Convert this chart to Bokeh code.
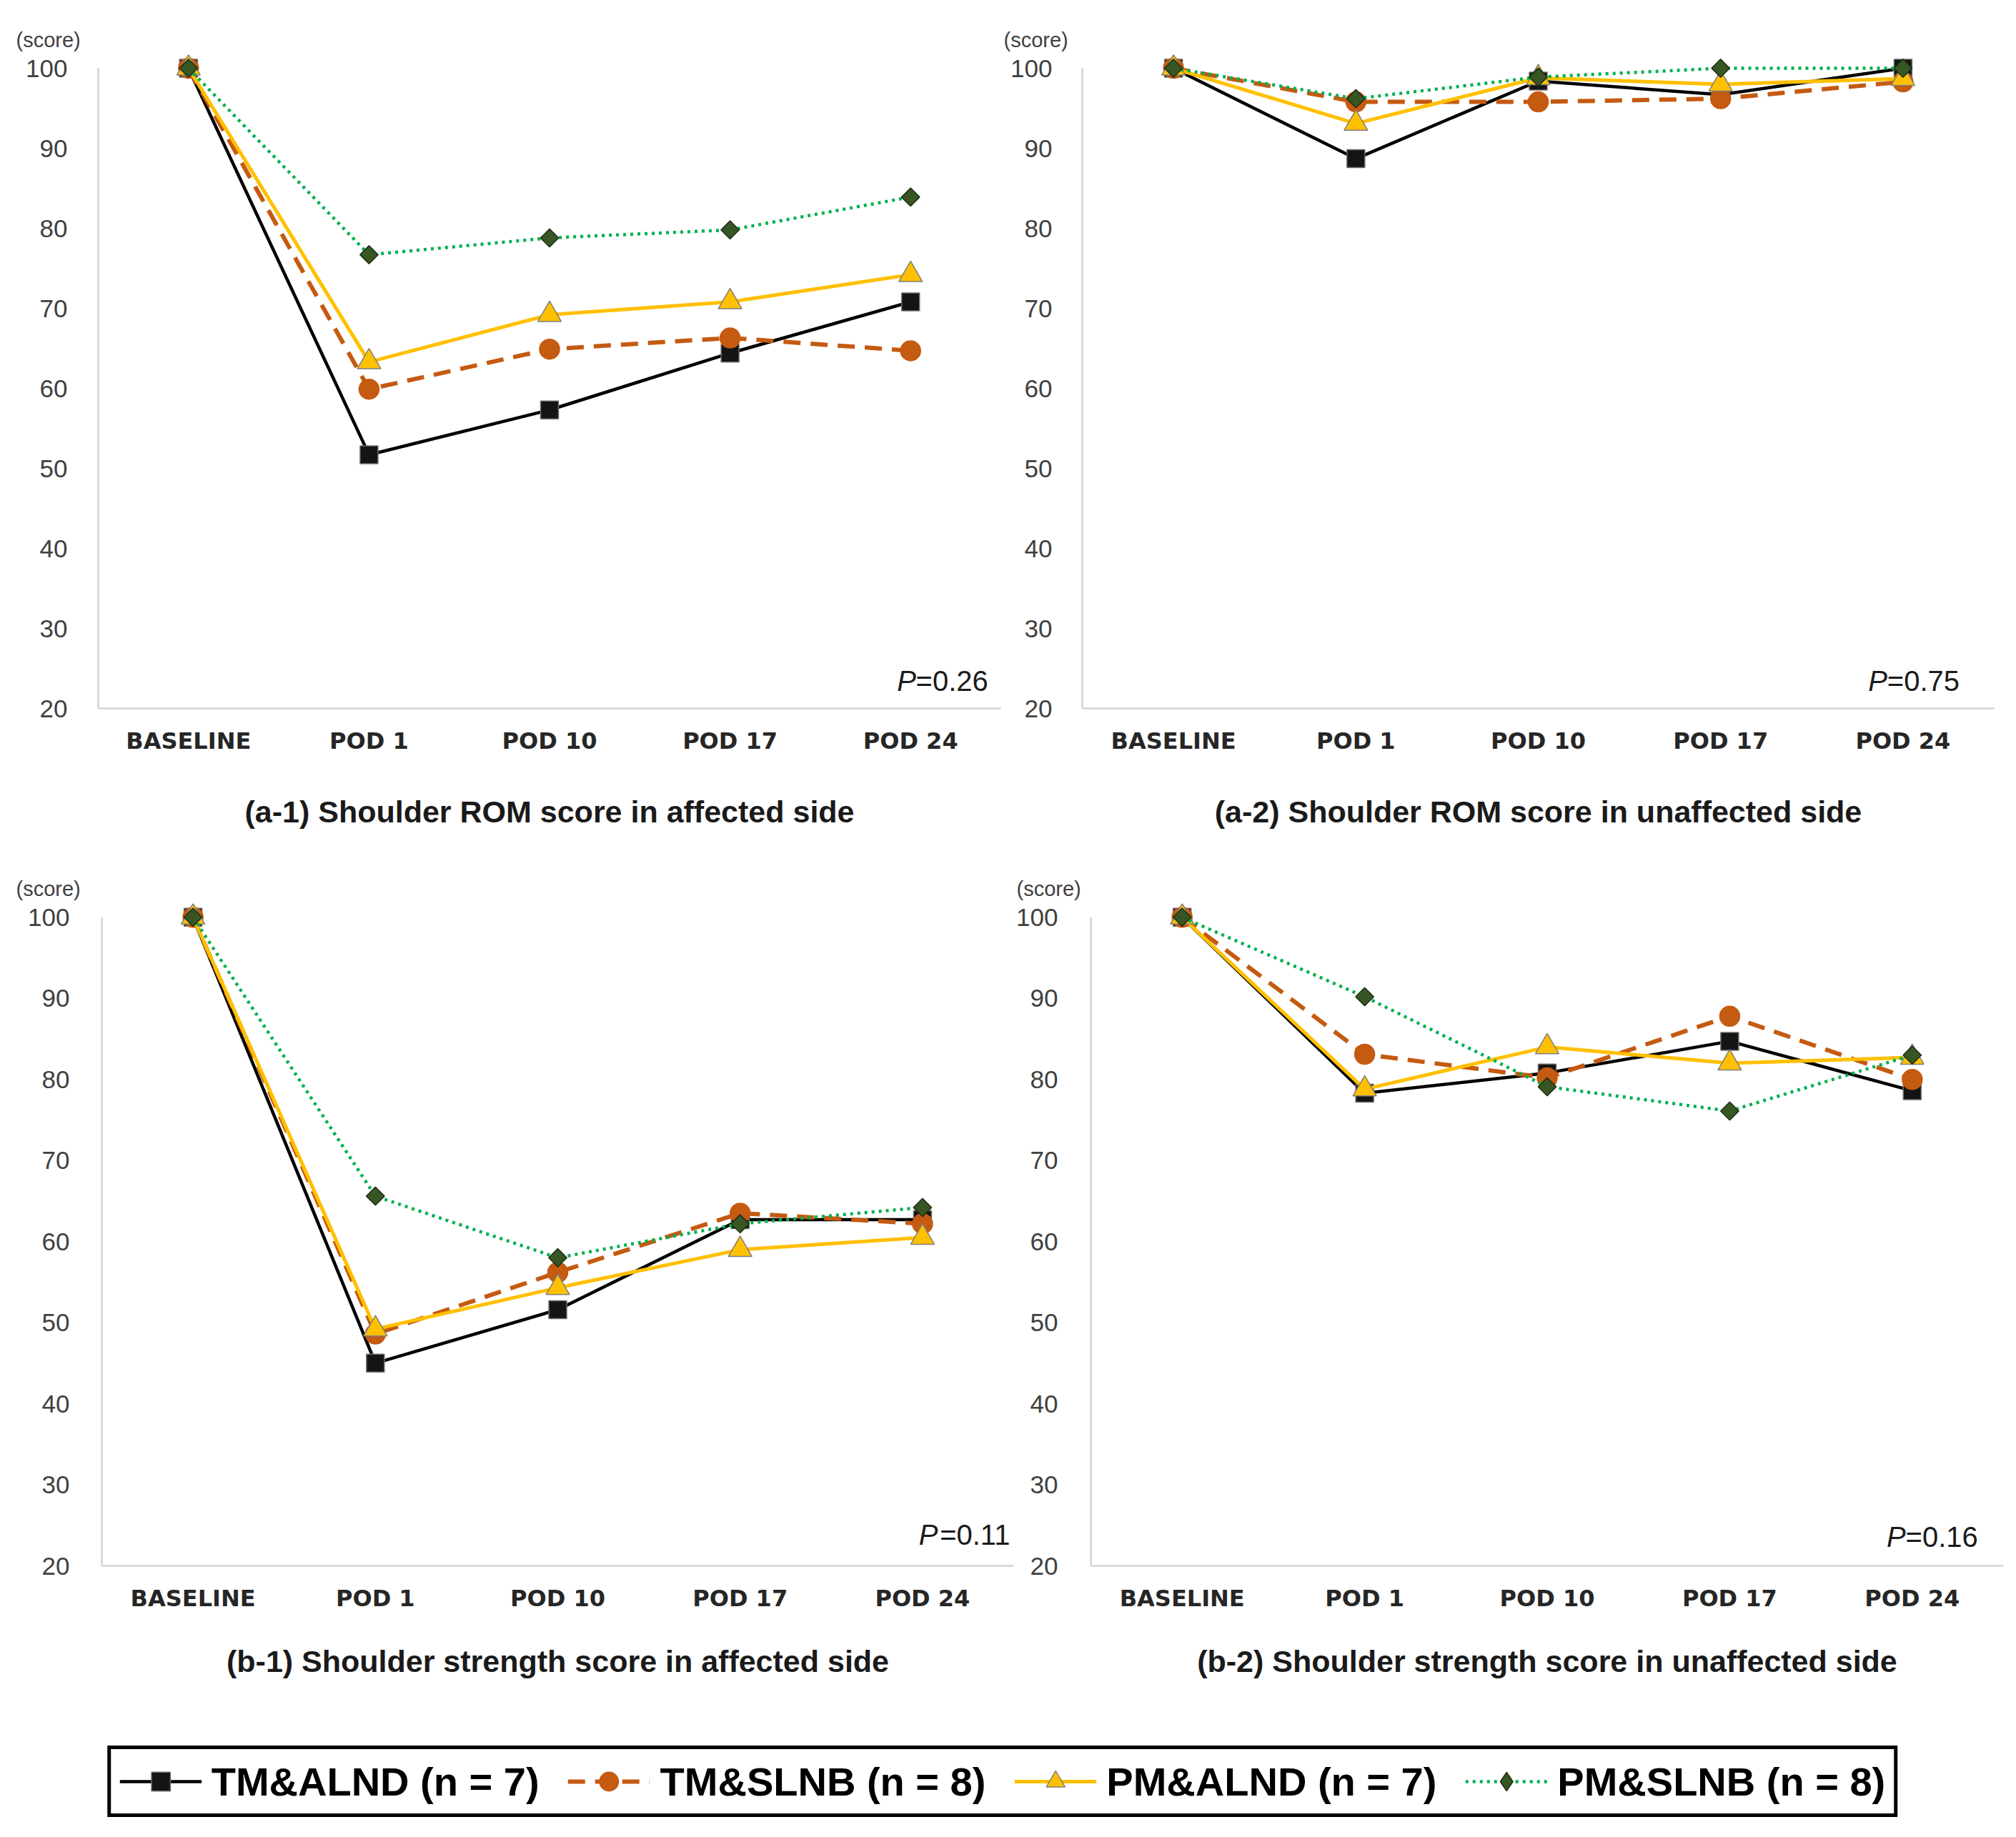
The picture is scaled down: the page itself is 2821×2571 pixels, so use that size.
import math
from bokeh.plotting import figure
from bokeh.models import Range1d, FactorRange, FixedTicker, Label, Legend, LegendItem, Title
from bokeh.layouts import column, row
from bokeh.embed import file_html
from bokeh.resources import INLINE

# ---------------- data ----------------
categories = ["BASELINE", "POD 1", "POD 10", "POD 17", "POD 24"]
series_names = ["TM&ALND (n = 7)", "TM&SLNB (n = 8)", "PM&ALND (n = 7)", "PM&SLNB (n = 8)"]
y_ticks = [20, 30, 40, 50, 60, 70, 80, 90, 100]

a1_tm_alnd = [100, 51.7, 57.3, 64.4, 70.8]
a1_tm_slnb = [100, 59.9, 64.9, 66.3, 64.7]
a1_pm_alnd = [100, 63.3, 69.2, 70.8, 74.2]
a1_pm_slnb = [100, 76.7, 78.8, 79.8, 83.9]

a2_tm_alnd = [100, 88.7, 98.4, 96.7, 100]
a2_tm_slnb = [100, 95.8, 95.8, 96.2, 98.3]
a2_pm_alnd = [100, 93.1, 98.8, 98.0, 98.7]
a2_pm_slnb = [100, 96.2, 98.9, 100, 100]

b1_tm_alnd = [100, 45.0, 51.6, 62.7, 62.7]
b1_tm_slnb = [100, 48.6, 56.2, 63.5, 62.2]
b1_pm_alnd = [100, 49.2, 54.3, 59.0, 60.5]
b1_pm_slnb = [100, 65.6, 58.0, 62.2, 64.2]

b2_tm_alnd = [100, 78.3, 80.8, 84.7, 78.6]
b2_tm_slnb = [100, 83.1, 80.2, 87.8, 80.0]
b2_pm_alnd = [100, 78.8, 84.0, 82.0, 82.7]
b2_pm_slnb = [100, 90.2, 79.1, 76.1, 83.0]

titles = ["(a-1) Shoulder ROM score in affected side",
          "(a-2) Shoulder ROM score in unaffected side",
          "(b-1) Shoulder strength score in affected side",
          "(b-2) Shoulder strength score in unaffected side"]
p_values = ["=0.26", "=0.75", "=0.11", "=0.16"]

# ---------------- styles ----------------
STY = [
    dict(color="#000000", dash="solid", lw=4.5, marker="square", lmarker="square", size=25,
         angle=0.0, fill="#141414", mline="#6F6F6F"),
    dict(color="#C55A11", dash="24 14", lw=6, marker="circle", lmarker="circle", size=28,
         angle=0.0, fill="#C55A11", mline="#C55A11"),
    dict(color="#FFC000", dash="solid", lw=5, marker="triangle", lmarker="triangle", size=33,
         angle=0.0, fill="#FFC000", mline="#7F7F7F"),
    dict(color="#00B050", dash="4 6", lw=4.5, marker="square", lmarker="diamond", size=18,
         angle=math.pi / 4, fill="#375623", mline="#1E2E13"),
]
FONT = "Liberation Sans"


def make_panel(series, title, ptxt, px, py, width, height, bl, br, bt, bb, ystand,
               score_off, title_stand):
    p = figure(width=width, height=height, x_range=FactorRange(*categories),
               y_range=Range1d(20, 101.7), toolbar_location=None, output_backend="svg",
               title_location="below", min_border_left=bl, min_border_right=br,
               min_border_top=bt, min_border_bottom=bb)
    p.outline_line_color = None
    p.grid.visible = False
    p.background_fill_color = "white"
    p.border_fill_color = "white"

    for vals, s in zip(series, STY):
        p.line(categories, vals, line_color=s["color"], line_width=s["lw"], line_dash=s["dash"])
        p.scatter(categories, vals, marker=s["marker"], size=s["size"], angle=s["angle"],
                  fill_color=s["fill"], line_color=s["mline"], line_width=1.5)

    ya = p.yaxis[0]
    ya.ticker = FixedTicker(ticks=y_ticks)
    ya.bounds = (20, 100)
    ya.axis_line_color = "#D9D9D9"
    ya.axis_line_width = 3
    ya.major_tick_line_color = None
    ya.minor_tick_line_color = None
    ya.major_tick_out = 0
    ya.major_tick_in = 0
    ya.major_label_standoff = ystand
    ya.major_label_text_font = FONT
    ya.major_label_text_font_size = "35px"
    ya.major_label_text_color = "#404040"

    xa = p.xaxis[0]
    xa.axis_line_color = "#D9D9D9"
    xa.axis_line_width = 3
    xa.major_tick_line_color = None
    xa.minor_tick_line_color = None
    xa.major_tick_out = 0
    xa.major_tick_in = 0
    xa.major_label_standoff = 26
    xa.major_label_text_font = "DejaVu Sans"
    xa.major_label_text_font_style = "bold"
    xa.major_label_text_font_size = "32px"
    xa.major_label_text_color = "#262626"

    p.title.text = title
    p.title.align = "center"
    p.title.text_font = FONT
    p.title.text_font_style = "bold"
    p.title.text_font_size = "43px"
    p.title.text_color = "#1A1A1A"
    p.title.standoff = title_stand

    p.add_layout(Title(text="(score)", align="left", offset=score_off, standoff=10,
                       text_font=FONT, text_font_style="normal", text_font_size="29px",
                       text_color="#404040"), "above")
    p.add_layout(Label(x=px, y=py, text=ptxt, text_align="right", text_baseline="middle",
                       text_font=FONT, text_font_size="40px", text_color="#1A1A1A"))
    p.add_layout(Label(x=px, y=py, x_offset=-101, text="P", text_align="right",
                       text_baseline="middle", text_font=FONT, text_font_size="40px",
                       text_font_style="italic", text_color="#1A1A1A"))
    return p


p1 = make_panel([a1_tm_alnd, a1_tm_slnb, a1_pm_alnd, a1_pm_slnb], titles[0], p_values[0], 4.93, 23.4,
                1402, 1211, 137, 2, 76, 218, 43, -115, 103)
p2 = make_panel([a2_tm_alnd, a2_tm_slnb, a2_pm_alnd, a2_pm_slnb], titles[1], p_values[1], 4.81, 23.4,
                1403, 1211, 112, 15, 76, 218, 42, -110, 103)
p3 = make_panel([b1_tm_alnd, b1_tm_slnb, b1_pm_alnd, b1_pm_slnb], titles[2], p_values[2], 4.98, 23.8,
                1418, 1179, 142, 0, 53, 199, 45, -120, 81)
p4 = make_panel([b2_tm_alnd, b2_tm_slnb, b2_pm_alnd, b2_pm_slnb], titles[3], p_values[3], 4.86, 23.6,
                1387, 1179, 108, 2, 53, 199, 46, -104, 81)

# ---------------- legend strip ----------------
lf = figure(width=2805, height=160, x_range=Range1d(0, 1), y_range=Range1d(0, 1),
            toolbar_location=None, output_backend="svg", x_axis_location=None,
            y_axis_location=None, min_border=0)
lf.outline_line_color = None
lf.grid.visible = False
nan = float("nan")
items = []
for name, s in zip(series_names, STY):
    lr = lf.line([nan, nan], [nan, nan], line_color=s["color"], line_width=s["lw"],
                 line_dash=s["dash"])
    sr = lf.scatter([nan], [nan], marker=s["lmarker"], size=s["size"],
                    fill_color=s["fill"], line_color=s["mline"], line_width=1.5)
    items.append(LegendItem(label=name, renderers=[lr, sr]))
leg = Legend(items=items, orientation="horizontal", location="top_center", margin=53,
             padding=12, spacing=40, glyph_width=115, glyph_height=66, label_standoff=14,
             label_text_font=FONT, label_text_font_style="bold", label_text_font_size="56px",
             label_text_color="#000000", border_line_color="#000000", border_line_width=5,
             border_line_alpha=1.0, background_fill_color="white", background_fill_alpha=1.0)
lf.add_layout(leg, "center")

layout = column(row(p1, p2), row(p3, p4), lf)
open("out.html", "w").write(file_html(layout, INLINE))
